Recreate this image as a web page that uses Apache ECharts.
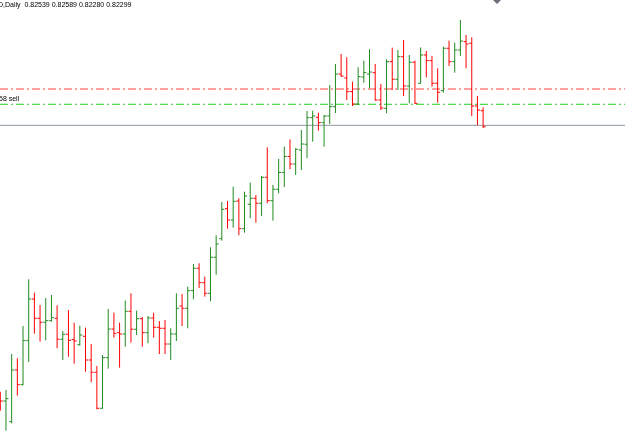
<!DOCTYPE html>
<html>
<head>
<meta charset="utf-8">
<script src="https://cdn.jsdelivr.net/npm/echarts@6/dist/echarts.min.js"></script>
<style>
html,body{margin:0;padding:0;background:#fff;}
#c{width:625px;height:442px;}
</style>
</head>
<body>
<div id="c"></div>
<script>
// Daily OHLC bars (index 0..85), prices
const opens = [0.78275,0.78185,0.77875,0.78650,0.78430,0.79090,0.79715,0.79426,0.79366,0.79390,
0.79426,0.79111,0.79186,0.79105,0.79030,0.79156,0.78800,0.78616,0.78076,0.78835,
0.79265,0.79210,0.79190,0.79531,0.79261,0.79420,0.79210,0.79430,0.79291,0.79276,
0.79040,0.79190,0.79610,0.79576,0.79840,0.80176,0.79960,0.79801,0.80341,0.80620,
0.81070,0.80900,0.81185,0.80770,0.81136,0.81226,0.81151,0.81541,0.81190,0.81361,
0.81613,0.81853,0.81740,0.81950,0.82036,0.82435,0.82441,0.82360,0.82460,0.82600,
0.83090,0.83030,0.82825,0.82640,0.83045,0.83090,0.83110,0.82700,0.82576,0.83275,
0.83011,0.83350,0.82910,0.83266,0.82951,0.83375,0.83290,0.82951,0.82840,0.83476,
0.83275,0.83450,0.83575,0.83551,0.82610,0.82539];
const highs = [0.78324,0.78350,0.78890,0.78826,0.79310,0.80011,0.79810,0.79625,0.79730,0.79775,
0.79621,0.79235,0.79550,0.79360,0.79315,0.79285,0.79040,0.78710,0.78875,0.79565,
0.79510,0.79360,0.79690,0.79801,0.79540,0.79445,0.79460,0.79510,0.79385,0.79400,
0.79276,0.79801,0.79790,0.79900,0.80240,0.80251,0.80050,0.80491,0.80671,0.81170,
0.81185,0.81400,0.81226,0.81325,0.81460,0.81275,0.81560,0.81991,0.81425,0.81815,
0.82000,0.82108,0.81976,0.82250,0.82535,0.82540,0.82510,0.82475,0.82925,0.83240,
0.83390,0.83341,0.82975,0.83191,0.83290,0.83461,0.83240,0.82940,0.83311,0.83485,
0.83450,0.83600,0.83375,0.83290,0.83488,0.83435,0.83360,0.83176,0.83500,0.83590,
0.83560,0.83900,0.83675,0.83641,0.82760,0.82589];
const lows = [0.78040,0.77740,0.77850,0.78265,0.78420,0.78770,0.79195,0.79075,0.79096,0.79375,
0.78976,0.78800,0.78850,0.78745,0.79015,0.78625,0.78466,0.78061,0.78070,0.78670,
0.79135,0.78685,0.79000,0.79060,0.79175,0.79000,0.79051,0.79135,0.78890,0.78890,
0.78800,0.79085,0.79310,0.79276,0.79711,0.79880,0.79750,0.79681,0.80080,0.80590,
0.80770,0.80785,0.80671,0.80710,0.80926,0.80860,0.80960,0.81151,0.80890,0.81301,
0.81395,0.81661,0.81575,0.81650,0.81826,0.82075,0.82240,0.82000,0.82340,0.82505,
0.83045,0.82700,0.82610,0.82625,0.82960,0.82876,0.82690,0.82550,0.82501,0.82850,
0.82850,0.82760,0.82651,0.82640,0.82945,0.83041,0.82900,0.82660,0.82810,0.83210,
0.83110,0.83360,0.83176,0.82460,0.82321,0.82280];
const closes = [0.78185,0.78220,0.78650,0.78430,0.79090,0.79715,0.79426,0.79366,0.79390,0.79435,
0.79111,0.79186,0.79096,0.79085,0.79175,0.78800,0.78616,0.78076,0.78835,0.79265,
0.79200,0.79190,0.79531,0.79261,0.79420,0.79210,0.79430,0.79291,0.79276,0.79040,
0.79190,0.79576,0.79576,0.79840,0.80176,0.79960,0.79801,0.80341,0.80540,0.81061,
0.80900,0.81181,0.80770,0.81260,0.81226,0.81151,0.81541,0.81190,0.81361,0.81613,
0.81853,0.81740,0.81961,0.82040,0.82435,0.82460,0.82360,0.82460,0.82600,0.83090,
0.83060,0.82825,0.82640,0.83050,0.83110,0.83120,0.82700,0.82580,0.83275,0.83011,
0.83350,0.82910,0.83266,0.82650,0.83375,0.83290,0.82951,0.82816,0.83476,0.83275,
0.83450,0.83585,0.83540,0.82610,0.82550,0.82299];

// Horizontal levels
const sellLevel = 0.82636;   // green dash-dot (sell)
const redLevel = 0.82865;    // red dash-dot
const bidLevel = 0.82320;    // gray solid

const headerText = 'D,Daily  0.82539 0.82589 0.82280 0.82299';
const sellText = '58 sell';

const X_MIN = -0.053, X_MAX = 109.98;
const UP = '#1f8a1f', DOWN = '#ff0000';

const bars = opens.map((o, i) => [i, o, highs[i], lows[i], closes[i]]);
function levelLine(v, color, width, type) {
  return {
    type: 'line', silent: true, symbol: 'none', z: 1,
    data: [[X_MIN, v], [X_MAX, v]],
    lineStyle: {color: color, width: width, type: type}
  };
}

const chart = echarts.init(document.getElementById('c'), null, {renderer: 'canvas'});
chart.setOption({
  animation: false,
  backgroundColor: '#ffffff',
  grid: {left: 0, right: 0, top: 0, bottom: 0},
  xAxis: {type: 'value', min: X_MIN, max: X_MAX, show: false},
  yAxis: {type: 'value', min: 0.7757, max: 0.8420, show: false},
  series: [
    levelLine(redLevel, '#ff8080', 1.5, [8, 3, 2, 3]),
    levelLine(sellLevel, '#22cc22', 1, [8, 3, 2, 3]),
    levelLine(bidLevel, '#8c96a3', 1, 'solid'),
    {
      type: 'custom',
      z: 2,
      data: bars,
      encode: {x: 0, y: [1, 2, 3, 4]},
      renderItem: function (params, api) {
        const x = api.value(0);
        const o = api.value(1), h = api.value(2), l = api.value(3), c = api.value(4);
        const pH = api.coord([x, h]), pL = api.coord([x, l]);
        const pO = api.coord([x, o]), pC = api.coord([x, c]);
        const col = c >= o ? UP : DOWN;
        const st = {stroke: col, lineWidth: 1};
        return {
          type: 'group',
          children: [
            {type: 'line', shape: {x1: pH[0], y1: pH[1], x2: pL[0], y2: pL[1]}, style: st},
            {type: 'line', shape: {x1: pO[0] - 2.5, y1: pO[1], x2: pO[0], y2: pO[1]}, style: st},
            {type: 'line', shape: {x1: pC[0], y1: pC[1], x2: pC[0] + 2.5, y2: pC[1]}, style: st}
          ]
        };
      }
    }
  ],
  graphic: [
    {type: 'text', left: -2, top: 2, style: {text: headerText, font: '7px "Liberation Sans"', fill: '#000'}},
    {type: 'text', left: -1, top: 96, style: {text: sellText, font: '7px "Liberation Sans"', fill: '#000'}},
    {type: 'polygon', shape: {points: [[493, 0], [501, 0], [497, 4]]}, style: {fill: '#6b6f78'}}
  ]
});
</script>
</body>
</html>
